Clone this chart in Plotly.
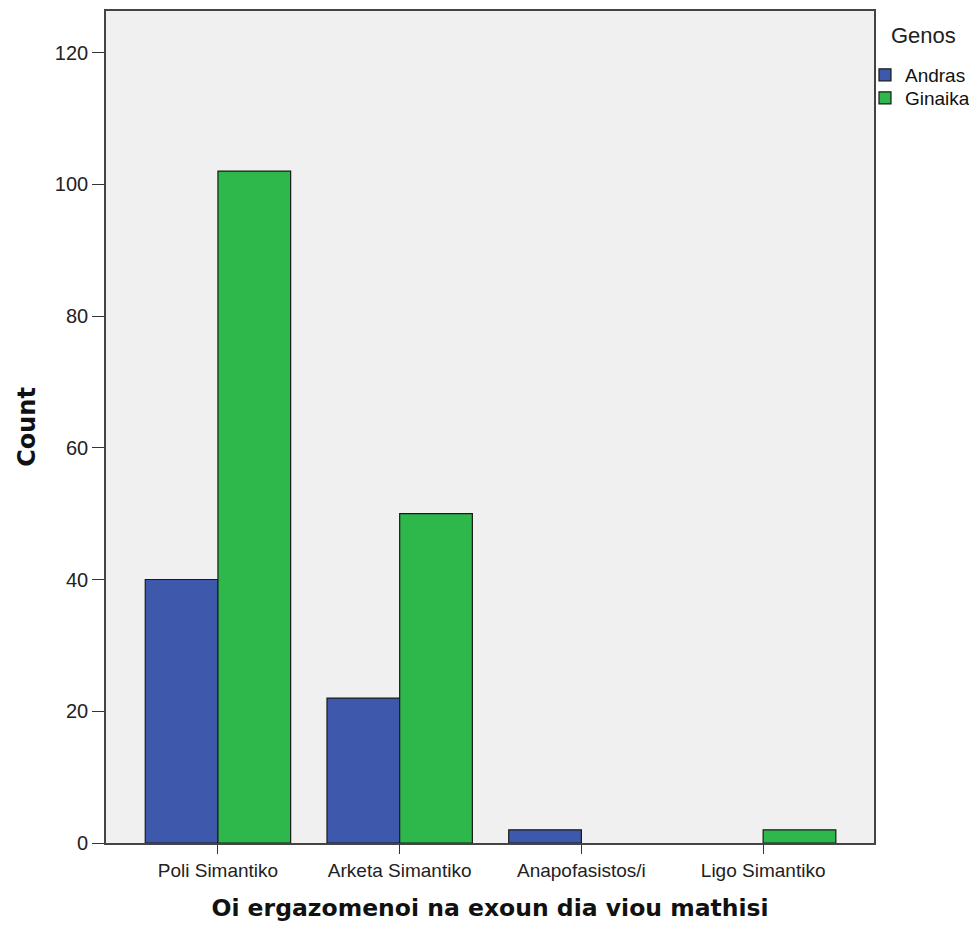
import plotly.graph_objects as go

categories = ["Poli Simantiko", "Arketa Simantiko", "Anapofasistos/i", "Ligo Simantiko"]
andras = [40, 22, 2, None]
ginaika = [102, 50, None, 2]
y_ticks = [0, 20, 40, 60, 80, 100, 120]

fig = go.Figure()
fig.add_trace(go.Bar(name="Andras", x=categories, y=andras, legend="legend", showlegend=True,
                     marker=dict(color="#3e58ac", line=dict(color="#1a1a1a", width=1.2))))
fig.add_trace(go.Bar(name="Ginaika", x=categories, y=ginaika, legend="legend2", showlegend=True,
                     marker=dict(color="#2eb84c", line=dict(color="#1a1a1a", width=1.2))))

fig.add_annotation(text="Genos", xref="paper", yref="paper", x=1.019, y=0.97,
                   xanchor="left", yanchor="middle", showarrow=False,
                   font=dict(size=22, color="#222"))

leg_common = dict(xref="container", yref="container", xanchor="left", yanchor="middle",
                  font=dict(size=19, color="#111"), itemwidth=30, bgcolor="rgba(0,0,0,0)")

fig.update_layout(
    width=969, height=914, showlegend=True,
    barmode="group", bargap=0.2, bargroupgap=0,
    plot_bgcolor="#f0f0f0", paper_bgcolor="white",
    margin=dict(l=98, r=103, t=3, b=79, autoexpand=False),
    font=dict(family="Liberation Sans, Arial, sans-serif", size=14, color="#222"),
    legend=dict(x=0.8844, y=0.9267, **leg_common),
    legend2=dict(x=0.8844, y=0.9015, **leg_common),
    xaxis=dict(range=[-0.616, 3.61], showgrid=False, ticks="outside", ticklen=9,
               tickcolor="#333", showline=True, linecolor="#444", linewidth=1.6, mirror=True,
               tickfont=dict(size=19, color="#222"),
               title=dict(text="<b>Oi ergazomenoi na exoun dia viou mathisi</b>",
                          font=dict(family="DejaVu Sans, Verdana, sans-serif", size=23.5, color="#111"),
                          standoff=25)),
    yaxis=dict(range=[0, 126.3], tickvals=y_ticks, showgrid=False, ticks="outside", ticklen=12,
               tickcolor="#333", showline=True, linecolor="#444", linewidth=1.6, mirror=True,
               zeroline=False, tickfont=dict(size=20, color="#222"),
               title=dict(text="<b>Count</b>",
                          font=dict(family="DejaVu Sans, Verdana, sans-serif", size=24, color="#111"),
                          standoff=12)),
)

fig.write_html("out.html")
